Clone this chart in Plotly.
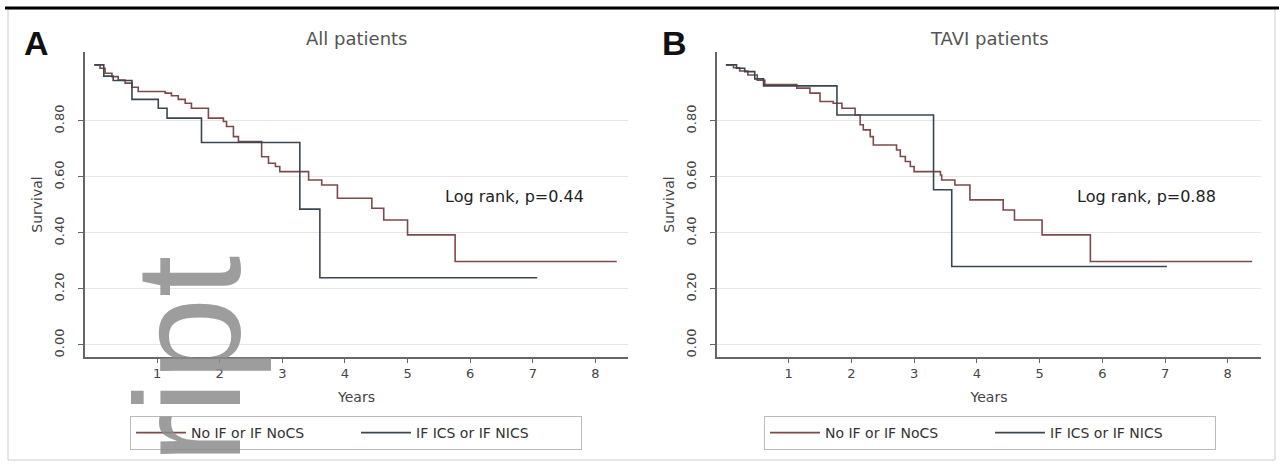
import plotly.graph_objects as go

# ---------------- data ----------------
# Panel A: All patients
a_noif_years = [0, 0.09, 0.17, 0.28, 0.38, 0.49, 0.60, 0.70, 1.13, 1.23, 1.34, 1.45, 1.55, 1.82,
                2.06, 2.11, 2.22, 2.30, 2.67, 2.78, 2.89, 2.96, 3.42, 3.63, 3.88, 4.43, 4.62, 5.00, 5.76, 8.34]
a_noif_surv = [1.0, 0.988, 0.970, 0.958, 0.946, 0.935, 0.920, 0.905, 0.899, 0.890, 0.877, 0.863, 0.845, 0.810,
               0.798, 0.780, 0.744, 0.726, 0.672, 0.649, 0.637, 0.619, 0.589, 0.571, 0.524, 0.488, 0.446, 0.393, 0.298, 0.298]
a_ifcs_years = [0, 0.15, 0.30, 0.60, 1.02, 1.16, 1.71, 3.28, 3.60, 7.07]
a_ifcs_surv = [1.0, 0.960, 0.944, 0.877, 0.845, 0.810, 0.723, 0.485, 0.240, 0.240]

# Panel B: TAVI patients
b_noif_years = [0, 0.12, 0.22, 0.35, 0.50, 0.62, 1.13, 1.34, 1.50, 1.71, 1.85, 2.06, 2.14, 2.19, 2.30,
                2.35, 2.72, 2.78, 2.86, 2.94, 3.00, 3.42, 3.44, 3.65, 3.89, 4.42, 4.60, 5.04, 5.81, 8.39]
b_noif_surv = [1.0, 0.990, 0.978, 0.964, 0.945, 0.930, 0.917, 0.899, 0.869, 0.863, 0.845, 0.821, 0.786, 0.768, 0.744,
               0.714, 0.696, 0.673, 0.655, 0.637, 0.619, 0.607, 0.589, 0.571, 0.518, 0.482, 0.446, 0.393, 0.298, 0.298]
b_ifcs_years = [0, 0.17, 0.30, 0.46, 0.60, 1.77, 3.31, 3.60, 7.03]
b_ifcs_surv = [1.0, 0.988, 0.976, 0.950, 0.925, 0.821, 0.554, 0.280, 0.280]

series_names = ["No IF or IF NoCS", "IF ICS or IF NICS"]
panel_titles = ["All patients", "TAVI patients"]
panel_letters = ["A", "B"]
logrank_texts = ["Log rank, p=0.44", "Log rank, p=0.88"]
y_ticks = [0.0, 0.2, 0.4, 0.6, 0.8]
y_ticklabels = ["0.00", "0.20", "0.40", "0.60", "0.80"]
x_ticks = [1, 2, 3, 4, 5, 6, 7, 8]

# ---------------- styling ----------------
W, H = 1279, 468
FONT = "DejaVu Sans"
C_NOIF = "#7d4a4c"
C_IFCS = "#3b4750"
AX = "#666666"

def px_x(p):
    return p / W

def px_y(p):
    return 1 - p / H

fig = go.Figure()

panels = [
    (a_noif_years, a_noif_surv, a_ifcs_years, a_ifcs_surv, "x", "y", "legend"),
    (b_noif_years, b_noif_surv, b_ifcs_years, b_ifcs_surv, "x2", "y2", "legend2"),
]
for (nx, ny, ix, iy, xa, ya, lg) in panels:
    fig.add_trace(go.Scatter(x=nx, y=ny, mode="lines", line=dict(color=C_NOIF, width=1.6, shape="hv"),
                             name=series_names[0], xaxis=xa, yaxis=ya, legend=lg))
    fig.add_trace(go.Scatter(x=ix, y=iy, mode="lines", line=dict(color=C_IFCS, width=1.6, shape="hv"),
                             name=series_names[1], xaxis=xa, yaxis=ya, legend=lg))

ydom = [px_y(357), px_y(52)]
xdomA = [px_x(85), px_x(628)]
xdomB = [px_x(717), px_x(1261)]

xcommon = dict(tickmode="array", tickvals=x_ticks, ticks="outside", ticklen=4, tickcolor=AX,
               showline=True, linecolor=AX, linewidth=1.5, showgrid=False, zeroline=False,
               tickfont=dict(family=FONT, size=13, color="#444"),
               title=dict(text="Years", font=dict(family=FONT, size=14, color="#444"), standoff=12))
ycommon = dict(tickmode="array", tickvals=y_ticks, ticktext=y_ticklabels, tickangle=-90,
               ticks="outside", ticklen=5, tickcolor=AX, ticklabelstandoff=9,
               showline=True, linecolor=AX, linewidth=1.5, showgrid=True, gridcolor="#e6e6e6",
               gridwidth=1, zeroline=False, range=[-0.043, 1.046],
               tickfont=dict(family=FONT, size=13, color="#444"),
               title=dict(text="Survival", font=dict(family=FONT, size=14, color="#444"), standoff=6))

leg_common = dict(orientation="h", xanchor="center", yanchor="middle",
                  bordercolor="#bbbbbb", borderwidth=1, bgcolor="white",
                  itemwidth=50, entrywidth=160, entrywidthmode="pixels",
                  font=dict(family=FONT, size=14, color="#333"))

fig.update_layout(
    width=W, height=H, autosize=False,
    margin=dict(l=0, r=0, t=0, b=0),
    paper_bgcolor="white", plot_bgcolor="white",
    xaxis=dict(domain=xdomA, range=[-0.15, 8.52], anchor="y", **xcommon),
    yaxis=dict(domain=ydom, anchor="x", **ycommon),
    xaxis2=dict(domain=xdomB, range=[-0.142, 8.53], anchor="y2", **xcommon),
    yaxis2=dict(domain=ydom, anchor="x2", **ycommon),
    legend=dict(x=px_x(356), y=px_y(433), **leg_common),
    legend2=dict(x=px_x(990), y=px_y(433), **leg_common),
    showlegend=True,
)

annotations = []
for i, (xr, yr, cx, lx) in enumerate([("x", "y", 356, 36), ("x2", "y2", 989, 674)]):
    annotations.append(dict(text=panel_titles[i], x=px_x(cx), y=px_y(38), xref="paper", yref="paper",
                            showarrow=False, xanchor="center", yanchor="middle",
                            font=dict(family=FONT, size=18, color="#555")))
    annotations.append(dict(text="<b>" + panel_letters[i] + "</b>", x=px_x(lx), y=px_y(43), xref="paper", yref="paper",
                            showarrow=False, xanchor="center", yanchor="middle",
                            font=dict(family="Liberation Sans", size=34, color="#111")))
    annotations.append(dict(text=logrank_texts[i], x=6.7, y=0.53, xref=xr, yref=yr, showarrow=False,
                            xanchor="center", yanchor="middle",
                            font=dict(family=FONT, size=16, color="#222")))

# journal watermark fragment
annotations.append(dict(text="ript", x=px_x(188), y=px_y(360), xref="paper", yref="paper", showarrow=False,
                        textangle=-90, xanchor="center", yanchor="middle",
                        font=dict(family="Liberation Sans", size=150, color="rgba(140,140,140,0.85)")))
fig.update_layout(annotations=annotations)

# frame lines around the figure
fig.add_shape(type="rect", xref="paper", yref="paper", x0=px_x(8), x1=px_x(1275), y0=px_y(460), y1=px_y(9),
              line=dict(color="#cccccc", width=1))
fig.add_shape(type="line", xref="paper", yref="paper", x0=px_x(5), x1=1, y0=px_y(8), y1=px_y(8),
              line=dict(color="#000000", width=3))

fig.write_html("out.html",
               config={"displayModeBar": False},
               post_script="document.body.style.margin='0';document.body.style.padding='0';"
                           "document.documentElement.style.overflow='hidden';")
